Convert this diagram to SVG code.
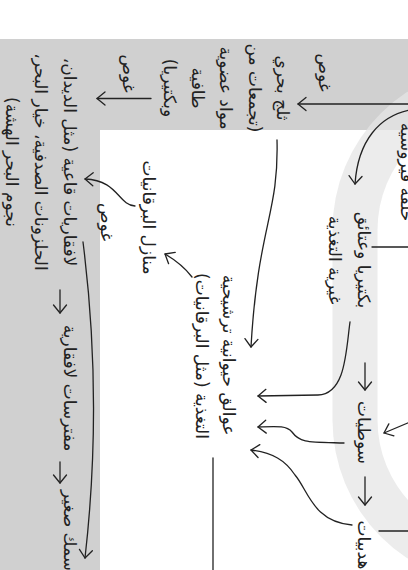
<svg xmlns="http://www.w3.org/2000/svg" width="408" height="570" viewBox="0 0 408 570">
<defs>
<style>
.t{font-family:"DejaVu Sans",sans-serif;font-size:17px;fill:#222;direction:rtl;text-anchor:middle}
.c{fill:none;stroke:#222;stroke-width:1.3;stroke-linecap:round}
.a{marker-end:url(#ah)}
</style>
<marker id="ah" viewBox="-10 -8 12 16" markerWidth="12" markerHeight="16" refX="0" refY="0" orient="auto" markerUnits="userSpaceOnUse" overflow="visible"><path d="M-8,-6.5 L0,0 L-8,6.5" fill="none" stroke="#222" stroke-width="1.3" stroke-linecap="round" stroke-linejoin="round"/></marker>
</defs>
<rect width="408" height="570" fill="#fff"/>
<g transform="translate(408 0) rotate(90)">
<path id="deep" d="M39 0H130V308H570V408H39Z" fill="#d0d0d0"/>
<path id="loop" d="M65 -89.5 A165 165 0 0 0 230 75.5 L420 75.5 A165 165 0 0 0 585 -89.5 L540 -89.5 A120 120 0 0 1 420 30.5 L230 30.5 A120 120 0 0 1 110 -89.5 Z" fill="#e6e6e6" opacity=".75"/>
<g id="connectors">
<path class="c a" d="M104 -5 L104 110"/>
<path class="c a" d="M98.5 257 L98.5 311"/>
<path class="c a" d="M140 131 C215 129 225 150 347 157"/>
<path class="c a" d="M206 273 C205 290 180 290 179 323"/>
<path class="c a" d="M277 216 Q264 226 254 243"/>
<path class="c a" d="M242 325 Q400 305 558 323"/>
<path class="c a" d="M110 -2 C116 28 140 50 184 53"/>
<path class="c" d="M247 -2 L247 36"/>
<path class="c a" d="M363 43 L390 43"/>
<path class="c a" d="M477 43 L505 43"/>
<path class="c a" d="M422 -2 L433 24"/>
<path class="c" d="M531 -2 L531 29"/>
<path class="c a" d="M322 58 C350 62 394 62 395 90 L396 150"/>
<path class="c a" d="M443 64 C442 100 443 108 432 116 C426 121 426 128 427 150"/>
<path class="c a" d="M525 56 C522 95 490 100 475 113 C460 123 453 135 450 157"/>
<path class="c" d="M458 195 L575 195"/>
<path class="c a" d="M290 348 L313 348"/>
<path class="c a" d="M462 348 L483 348"/>
</g>
<g id="n-sink-a"><text class="t" x="72.5" y="89">غوص</text></g>
<g id="n-snow">
<text class="t" x="88" y="131">ثلج بحري</text>
<text class="t" x="88" y="159.3">(تجمعات من</text>
<text class="t" x="88" y="187.6">مواد عضوية</text>
<text class="t" x="88" y="216">طافية</text>
<text class="t" x="88" y="244">وبكتيريا)</text>
</g>
<g id="n-sink-c"><text class="t" x="73.5" y="285">غوص</text></g>
<g id="n-benthic">
<text class="t" x="162" y="344">لافقاريات قاعية (مثل الديدان،</text>
<text class="t" x="162" y="373">الحلزونات الصدفية، خيار البحر،</text>
<text class="t" x="162" y="402">نجوم البحر الهشة)</text>
</g>
<g id="n-predators"><text class="t" x="388" y="344">مفترسات لافقارية</text></g>
<g id="n-fish"><text class="t" x="490" y="344" style="text-anchor:end">سمك صغير</text></g>
<g id="n-houses"><text class="t" x="217.5" y="265">منازل البرقانيات</text></g>
<g id="n-sink-b"><text class="t" x="222" y="307">غوص</text></g>
<g id="n-zoo">
<text class="t" x="355" y="185">عوالق حيوانية ترشيحية</text>
<text class="t" x="356" y="212">التغذية (مثل البرقانيات)</text>
</g>
<g id="n-viral"><text class="t" x="172" y="7">حلقة فيروسية</text></g>
<g id="n-bact">
<text class="t" x="260" y="50">بكتيريا وعتائق</text>
<text class="t" x="260" y="79">غيرية التغذية</text>
</g>
<g id="n-flag"><text class="t" x="432.5" y="50">سوطيات</text></g>
<g id="n-cil"><text class="t" x="545" y="50">هدبيات</text></g>
</g>
</svg>
